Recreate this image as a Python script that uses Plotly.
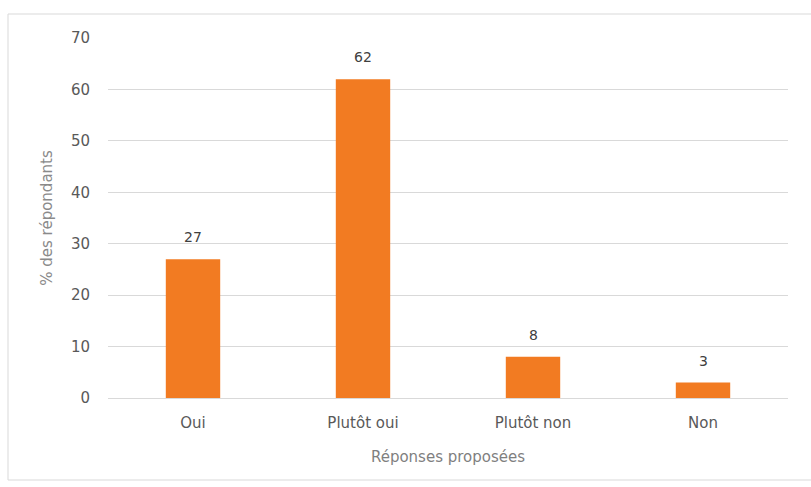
import plotly.graph_objects as go

categories = ["Oui", "Plutôt oui", "Plutôt non", "Non"]
values = [27, 62, 8, 3]
y_ticks = [0, 10, 20, 30, 40, 50, 60, 70]

W, H = 811, 487
L, R, T, B = 108, 23, 38, 89
pw, ph = W - L - R, H - T - B
FONT = "DejaVu Sans"

def px(x):
    return (x - L) / pw

def py(y):
    return (H - B - y) / ph

fig = go.Figure(go.Bar(
    x=categories, y=values,
    marker=dict(color="#F27B22", line=dict(width=0)),
    width=0.32,
    hoverinfo="x+y",
))

for c, v in zip(categories, values):
    fig.add_annotation(x=c, y=v, text=str(v), showarrow=False,
                       yanchor="middle", yshift=22,
                       font=dict(family=FONT, size=14, color="#404040"))

fig.update_layout(
    width=W, height=H,
    margin=dict(l=L, r=R, t=T, b=B),
    paper_bgcolor="white", plot_bgcolor="white",
    showlegend=False,
    font=dict(family=FONT, size=15, color="#595959"),
    xaxis=dict(
        title=dict(text="Réponses proposées", font=dict(size=15, color="#7f7f7f"), standoff=20),
        showgrid=False, showline=True, linecolor="#D9D9D9", linewidth=1,
        ticks="", ticklabelstandoff=11, tickfont=dict(size=15, color="#595959"),
    ),
    yaxis=dict(
        title=dict(text="% des répondants", font=dict(size=15, color="#8a8a8a"), standoff=14),
        range=[0, 70], tickvals=y_ticks,
        showgrid=True, gridcolor="#D9D9D9", gridwidth=1,
        zeroline=False, ticks="", ticklabelstandoff=17,
        tickfont=dict(size=15, color="#595959"),
    ),
    bargap=0.68,
    shapes=[dict(type="rect", xref="paper", yref="paper",
                 x0=px(8), x1=px(812), y0=py(480), y1=py(14),
                 line=dict(color="#D9D9D9", width=1), layer="below")],
)

fig.write_html("out.html")
